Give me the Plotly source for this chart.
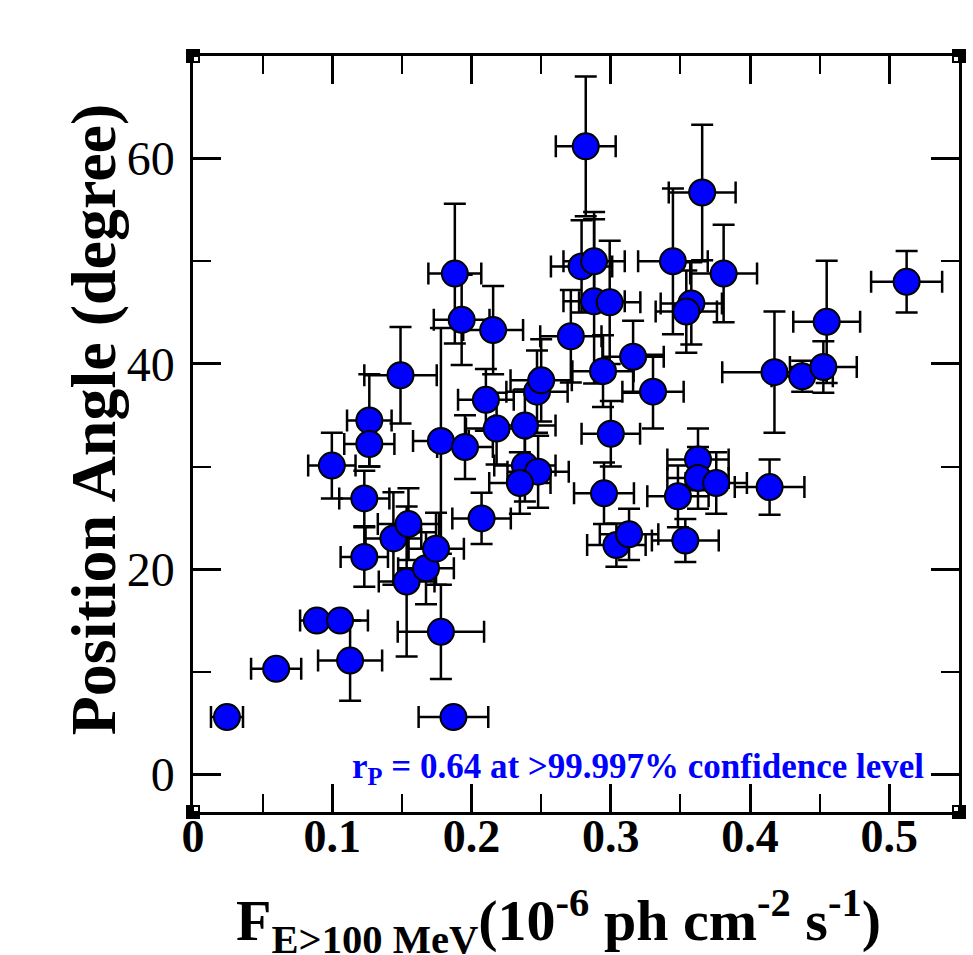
import plotly.graph_objects as go

# Flux F(E>100 MeV) in 1e-6 ph cm^-2 s^-1
flux = [0.0244, 0.0597, 0.0889, 0.1056, 0.1128, 0.0997, 0.1266, 0.1266, 0.1230, 0.1230,
        0.1490, 0.1439, 0.1547, 0.1534, 0.1673, 0.1745, 0.1780, 0.1870, 0.1780, 0.1953,
        0.1880, 0.1929, 0.2155, 0.2072, 0.2103, 0.2180, 0.2383, 0.2470, 0.2500, 0.2383,
        0.2478, 0.2347, 0.2713, 0.2820, 0.2790, 0.2880, 0.2880, 0.2992, 0.2944, 0.3160,
        0.3000, 0.2951, 0.3040, 0.3131, 0.3303, 0.3446, 0.3656, 0.3810, 0.3578, 0.3542,
        0.3626, 0.3626, 0.3757, 0.3482, 0.3535, 0.4140, 0.4175, 0.4374, 0.4526, 0.4550,
        0.5124]
flux_err = [0.0115, 0.018, 0.012, 0.020, 0.023, 0.017, 0.016, 0.018, 0.018, 0.017,
            0.026, 0.020, 0.022, 0.020, 0.020, 0.020, 0.031, 0.025, 0.020, 0.020,
            0.019, 0.020, 0.0215, 0.021, 0.020, 0.022, 0.022, 0.022, 0.022, 0.022,
            0.022, 0.022, 0.022, 0.0215, 0.022, 0.022, 0.022, 0.022, 0.022, 0.022,
            0.021, 0.0215, 0.021, 0.021, 0.022, 0.025, 0.024, 0.024, 0.022, 0.022,
            0.022, 0.022, 0.022, 0.022, 0.024, 0.025, 0.0375, 0.022, 0.024, 0.024,
            0.0255]
# Position angle (degree)
angle = [5.6, 10.3, 15.0, 15.0, 11.1, 30.1, 34.5, 32.2, 26.9, 21.2,
         38.9, 23.0, 24.4, 18.8, 20.1, 22.0, 13.9, 5.6, 32.5, 31.9,
         48.8, 44.3, 43.3, 24.95, 36.5, 33.7, 34.0, 37.3, 38.4, 30.1,
         29.5, 28.4, 42.7, 61.2, 49.5, 50.0, 46.1, 46.0, 39.3, 40.7,
         33.2, 27.4, 22.35, 23.4, 37.3, 50.0, 56.7, 48.8, 45.9, 45.1,
         30.7, 28.9, 28.4, 27.1, 22.8, 28.0, 39.2, 38.8, 39.7, 44.1,
         48.0]
angle_err = [0.4, 0.5, 0.6, 0.6, 3.9, 3.2, 4.5, 2.2, 2.7, 2.9,
             4.7, 4.5, 3.5, 7.3, 3.5, 3.5, 4.6, 0.5, 11.0, 3.1,
             6.8, 4.4, 4.3, 2.5, 3.0, 3.5, 3.5, 4.0, 4.0, 3.5,
             3.5, 3.0, 4.5, 6.8, 4.5, 4.8, 8.0, 6.0, 3.5, 3.5,
             3.2, 3.0, 2.1, 2.5, 3.6, 7.1, 6.6, 4.75, 4.0, 4.0,
             3.0, 3.0, 3.0, 3.0, 2.1, 2.7, 5.9, 1.5, 2.5, 5.95,
             3.0]

x_ticks = [0, 0.1, 0.2, 0.3, 0.4, 0.5]
y_ticks = [0, 20, 40, 60]

SERIF = "Liberation Serif, Times New Roman, serif"

fig = go.Figure()
fig.add_trace(go.Scatter(
    x=flux, y=angle, mode="markers",
    marker=dict(size=26, color="#0000ff", line=dict(color="black", width=2)),
    error_x=dict(type="data", array=flux_err, color="black", thickness=2.5, width=11),
    error_y=dict(type="data", array=angle_err, color="black", thickness=2.5, width=11),
    showlegend=False,
))

axis_common = dict(
    showline=True, linecolor="black", linewidth=2.5, mirror="allticks",
    ticks="inside", ticklen=28, tickwidth=2.5, tickcolor="black",
    showgrid=False, zeroline=False,
)
fig.update_xaxes(
    range=[0, 0.55], tickvals=x_ticks, ticktext=[("%g" % v) for v in x_ticks],
    tickfont=dict(family=SERIF, size=46, color="black", weight="bold"),
    minor=dict(dtick=0.05, tick0=0, ticks="inside", ticklen=18, tickwidth=2, tickcolor="black"),
    ticklabelstandoff=-18,
    **axis_common,
)
fig.update_yaxes(
    range=[-3.65, 70], tickvals=y_ticks, ticktext=[str(v) for v in y_ticks],
    tickfont=dict(family=SERIF, size=48, color="black"),
    minor=dict(dtick=10, tick0=0, ticks="inside", ticklen=18, tickwidth=2, tickcolor="black"),
    ticklabelstandoff=6,
    **axis_common,
)

fig.add_annotation(
    text="r<sub>P</sub> = 0.64 at &gt;99.997% confidence level",
    x=0.5265, y=0.6, xref="x", yref="y", xanchor="right", yanchor="middle",
    showarrow=False, font=dict(family=SERIF, size=35, color="#0000ff", weight="bold"),
)
fig.add_annotation(
    text="Position Angle (degree)", textangle=-90,
    x=-0.13, y=0.52, xref="paper", yref="paper", xanchor="center", yanchor="middle",
    showarrow=False, font=dict(family=SERIF, size=64, color="black", weight="bold"),
)
fig.add_annotation(
    text="F<sub>E&gt;100 MeV</sub>(10<sup>-6</sup> ph cm<sup>-2</sup> s<sup>-1</sup>)",
    x=0.053, y=-0.087, xref="paper", yref="paper", xanchor="left", yanchor="top",
    showarrow=False, font=dict(family=SERIF, size=58, color="black", weight="bold"),
)

# corner markers of the frame
for cx, cy in [(0, 0), (1, 0), (0, 1), (1, 1)]:
    fig.add_shape(type="rect", xref="paper", yref="paper", xsizemode="pixel", ysizemode="pixel",
                  xanchor=cx, yanchor=cy, x0=-7, x1=7, y0=-7, y1=7,
                  fillcolor="black", line=dict(width=0))
    sx = 1 if cx == 0 else -1
    sy = 1 if cy == 0 else -1
    fig.add_shape(type="rect", xref="paper", yref="paper", xsizemode="pixel", ysizemode="pixel",
                  xanchor=cx, yanchor=cy, x0=min(sx, sx * 5), x1=max(sx, sx * 5),
                  y0=min(sy, sy * 5), y1=max(sy, sy * 5),
                  fillcolor="white", line=dict(width=0))

fig.update_layout(
    width=973, height=955,
    margin=dict(l=193, r=14, t=56, b=143),
    paper_bgcolor="white", plot_bgcolor="white",
    font=dict(family=SERIF, color="black"),
)
fig.write_html("out.html")
